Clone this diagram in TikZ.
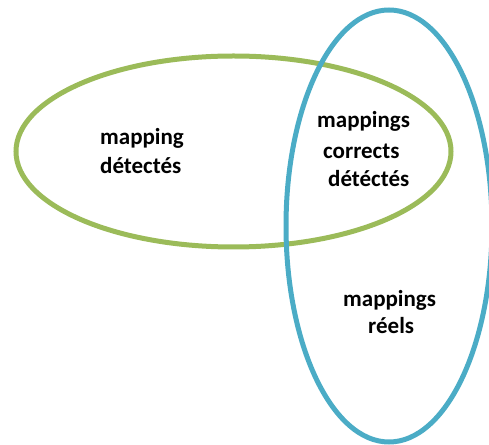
\documentclass[tikz,border=0pt]{standalone}
\usepackage{fontspec}
\setmainfont{Carlito}
\definecolor{vgreen}{HTML}{9BBB59}
\definecolor{vblue}{HTML}{4BACC6}
\begin{document}
\begin{tikzpicture}[x=1pt,y=1pt,
  ring/.style={line width=5pt},
  lbl/.style={anchor=base west,inner sep=0pt,font=\fontsize{23}{28}\selectfont\bfseries}]
\useasboundingbox (0,0) rectangle (489,444);
\clip (0,0) rectangle (489,444);
\draw[ring,vgreen] (233.5,292.5) ellipse [x radius=217.5, y radius=95.5];
\draw[ring,vblue] (389,218) ellipse [x radius=103, y radius=216];
\node[lbl] (a1) at (100,299) {mapping};
\node[lbl] (a2) at (100,270) {détectés};
\node[lbl] (b1) at (317,316) {mappings};
\node[lbl] (b2) at (323,285) {corrects};
\node[lbl] (b3) at (328,257) {détéctés};
\node[lbl] (c1) at (343,137) {mappings};
\node[lbl] (c2) at (368,110) {réels};
\end{tikzpicture}
\end{document}
